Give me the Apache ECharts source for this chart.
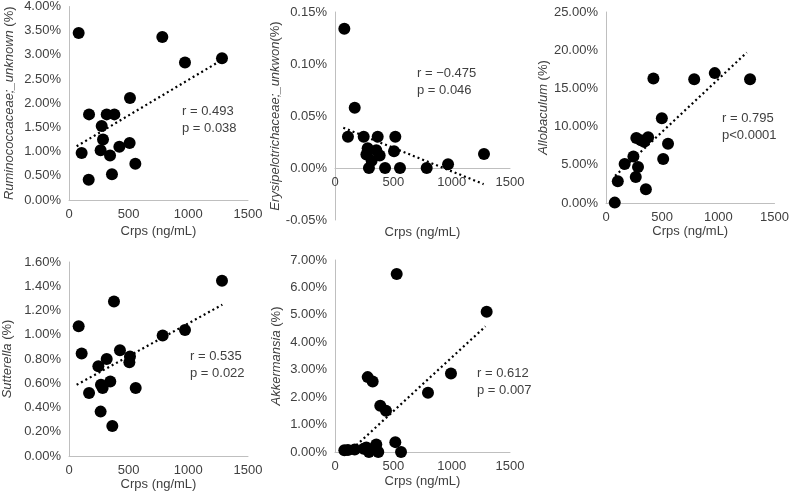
<!DOCTYPE html>
<html><head><meta charset="utf-8">
<script src="https://cdn.jsdelivr.net/npm/echarts@6/dist/echarts.min.js"></script>
<style>html,body{margin:0;padding:0;background:#fff}#c{width:792px;height:494px}</style>
</head><body><div id="c"></div>
<script>
// ---- data (Crps ng/mL vs relative abundance %) ----
const crpsRum = [81,782,972,1282,511,168,316,380,274,285,265,422,508,106,344,556,360,165];
const rum     = [3.45,3.37,2.84,2.93,2.11,1.77,1.77,1.77,1.53,1.25,1.03,1.10,1.18,0.97,0.92,0.75,0.53,0.42];
const trendRumX = [64,1271];
const trendRumY = [1.11,2.88];

const crpsEry = [80,169,111,246,366,517,280,269,354,383,314,506,291,429,557,786,969,1277];
const ery     = [0.134,0.058,0.030,0.030,0.030,0.030,0.019,0.013,0.017,0.012,0.007,0.016,0,0,0,0,0.0035,0.0135];
const trendEryX = [71,1274];
const trendEryY = [0.0387,-0.0155];

const crpsAllo = [78,105,166,244,285,265,355,270,311,340,375,497,509,552,422,785,968,1282];
const allo     = [0.05,2.85,5.1,6.1,4.7,3.4,1.8,8.5,8.2,8.0,8.6,11.1,5.75,7.75,16.3,16.2,17.0,16.2];
const trendAlloX = [81,1253];
const trendAlloY = [3.55,19.7];

const crpsSut = [81,106,168,246,316,268,282,265,346,363,377,427,511,506,559,785,972,1282];
const sut     = [1.07,0.845,0.52,0.74,0.80,0.587,0.56,0.366,0.614,0.248,1.275,0.873,0.82,0.774,0.56,0.994,1.04,1.446];
const trendSutX = [64,1285];
const trendSutY = [0.587,1.248];

const crpsAkk = [80,111,169,246,269,280,323,291,354,371,388,437,517,529,566,797,994,1300];
const akk     = [0.06,0.07,0.09,0.12,0.16,2.73,2.57,0,0.27,0,1.69,1.5,0.36,6.49,0,2.16,2.86,5.11];
const trendAkkX = [120,1290];
const trendAkkY = [0,4.58];

const xTicks = [0,500,1000,1500];
const yRumTicks  = [0,0.5,1,1.5,2,2.5,3,3.5,4];
const yEryTicks  = [-0.05,0,0.05,0.10,0.15];
const yAlloTicks = [0,5,10,15,20,25];
const ySutTicks  = [0,0.2,0.4,0.6,0.8,1.0,1.2,1.4,1.6];
const yAkkTicks  = [0,1,2,3,4,5,6,7];

const xTitle = 'Crps (ng/mL)';
const taxa = ['Ruminococcaceae;_unknown','Erysipelotrichaceae;_unkwon','Allobaculum','Sutterella','Akkermansia'];
const unitSuffix = [' (%)','(%)',' (%)',' (%)',' (%)'];
const rText = ['r = 0.493','r = \u22120.475','r = 0.795','r = 0.535','r = 0.612'];
const pText = ['p = 0.038','p = 0.046','p<0.0001','p = 0.022','p = 0.007'];

// ---- layout ----
const panels = [
  {x:crpsRum, y:rum,  tx:trendRumX, ty:trendRumY, yt:yRumTicks,  grid:{left:69, top:5,  width:179,height:195}, gap:53, xgap:25, txt:[182,103]},
  {x:crpsEry, y:ery,  tx:trendEryX, ty:trendEryY, yt:yEryTicks,  grid:{left:335,top:12, width:175,height:208}, gap:52, xgap:58, txt:[417,65]},
  {x:crpsAllo,y:allo, tx:trendAlloX,ty:trendAlloY,yt:yAlloTicks, grid:{left:606,top:12, width:172,height:191}, gap:54, xgap:22, txt:[722,110]},
  {x:crpsSut, y:sut,  tx:trendSutX, ty:trendSutY, yt:ySutTicks,  grid:{left:69, top:262,width:179,height:194}, gap:55, xgap:21, txt:[190,348]},
  {x:crpsAkk, y:akk,  tx:trendAkkX, ty:trendAkkY, yt:yAkkTicks,  grid:{left:335,top:260,width:175,height:192}, gap:52, xgap:23, txt:[477,365]}
];

const font = 'Liberation Sans, Arial, sans-serif';
const txtColor = '#404040';
const axisColor = '#bfbfbf';

const grid=[], xAxis=[], yAxis=[], series=[], graphic=[];
panels.forEach((p,i)=>{
  const yt = p.yt;
  const yMin = yt[0], yMax = yt[yt.length-1];
  // place the x axis at y = 0 (shift up when the y range goes below zero)
  const off = yMin < 0 ? -Math.round(p.grid.height * (0 - yMin) / (yMax - yMin)) : 0;
  grid.push(Object.assign({containLabel:false}, p.grid));
  xAxis.push({
    type:'value', gridIndex:i, min:xTicks[0], max:xTicks[xTicks.length-1], interval:xTicks[1]-xTicks[0],
    offset:off,
    name:xTitle, nameLocation:'middle', nameGap:p.xgap,
    nameTextStyle:{color:txtColor, fontSize:13, fontFamily:font},
    axisLine:{onZero:false, lineStyle:{color:axisColor, width:1}},
    axisTick:{show:false}, splitLine:{show:false},
    axisLabel:{color:txtColor, fontSize:13, fontFamily:font, margin:8, formatter:v=>String(v)}
  });
  const step = +(yt[1]-yt[0]).toFixed(4);
  yAxis.push({
    type:'value', gridIndex:i, min:yMin, max:yMax, interval:step,
    name:'{it|'+taxa[i]+'}'+unitSuffix[i], nameLocation:'middle', nameGap:p.gap, nameRotate:90,
    nameTextStyle:{color:txtColor, fontSize:13, fontFamily:font, rich:{it:{fontStyle:'italic', color:txtColor, fontSize:13, fontFamily:font}}},
    axisLine:{show:true, onZero:false, lineStyle:{color:axisColor, width:1}},
    axisTick:{show:false}, splitLine:{show:false},
    axisLabel:{color:txtColor, fontSize:13, fontFamily:font, margin:8, formatter:v=>v.toFixed(2)+'%'}
  });
  series.push({
    type:'line', xAxisIndex:i, yAxisIndex:i, data:p.tx.map((v,k)=>[v,p.ty[k]]),
    symbol:'none', silent:true, z:1,
    lineStyle:{color:'#000', width:2.2, type:[2,3]}
  });
  series.push({
    type:'scatter', xAxisIndex:i, yAxisIndex:i, data:p.x.map((v,k)=>[v,p.y[k]]),
    symbol:'circle', symbolSize:12, itemStyle:{color:'#000', opacity:1}, z:2
  });
  graphic.push({type:'text', left:p.txt[0], top:p.txt[1],
    style:{text:rText[i]+'\n'+pText[i], fill:txtColor, font:'13px '+font, lineHeight:17}});
});

const chart = echarts.init(document.getElementById('c'), null, {renderer:'canvas'});
chart.setOption({animation:false, backgroundColor:'#fff', grid, xAxis, yAxis, series, graphic});
</script></body></html>
